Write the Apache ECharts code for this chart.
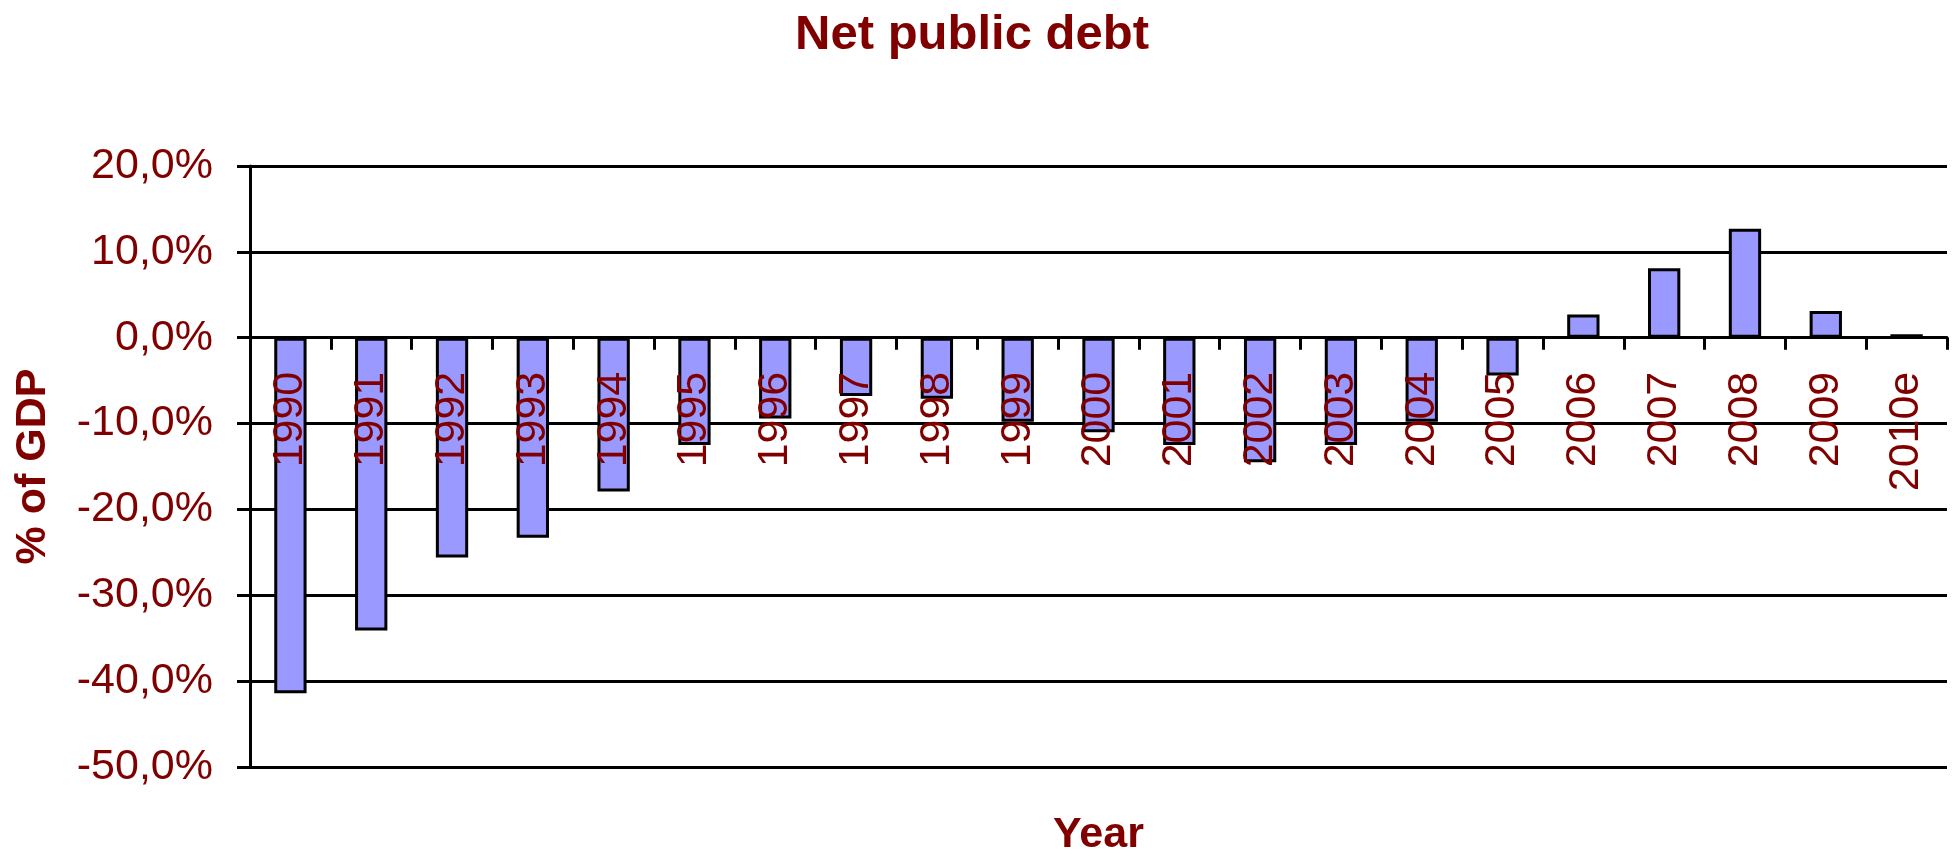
<!DOCTYPE html>
<html>
<head>
<meta charset="utf-8">
<title>Net public debt</title>
<script src="https://cdn.jsdelivr.net/npm/echarts@6/dist/echarts.min.js"></script>
<style>
  html, body { margin: 0; padding: 0; background: #fff; }
  #chart { width: 1959px; height: 859px; }
</style>
</head>
<body>
<div id="chart"></div>
<script>
// Net public debt, % of GDP, by year
const years = ['1990', '1991', '1992', '1993', '1994', '1995', '1996', '1997', '1998', '1999',
               '2000', '2001', '2002', '2003', '2004', '2005', '2006', '2007', '2008', '2009', '2010e'];
const debtPct = [-41.4, -34.1, -25.6, -23.3, -17.9, -12.5, -9.4, -6.8, -7.1, -9.8,
                 -11.0, -12.5, -14.5, -12.5, -9.8, -4.4, 2.7, 8.1, 12.7, 3.1, 0.4];
const yTicks = { min: -50, max: 20, step: 10 };

const RED = '#800000';
const FONT = '"Liberation Sans", Arial, sans-serif';
const W = 1959, H = 859;
const GRID = { left: 250, right: 12, top: 166, bottom: 92 };

// The category axis (line, ticks and year labels) sits on the 0 % line:
// shift it up from the grid bottom by the height of the negative part of the range.
const plotHeight = H - GRID.top - GRID.bottom;
const zeroShift = -plotHeight * (0 - yTicks.min) / (yTicks.max - yTicks.min);

const chart = echarts.init(document.getElementById('chart'), null, { renderer: 'canvas' });

chart.setOption({
  backgroundColor: '#ffffff',
  animation: false,
  title: {
    text: 'Net public debt',
    left: 967,
    top: 6,
    textAlign: 'center',
    textStyle: { color: RED, fontFamily: FONT, fontWeight: 'bold', fontSize: 49 }
  },
  graphic: [{
    type: 'text',
    left: 1053,
    top: 814,
    style: { text: 'Year', fill: RED, font: 'bold 43px ' + FONT }
  }],
  grid: Object.assign({ containLabel: false, outerBoundsMode: 'none' }, GRID),
  xAxis: {
    type: 'category',
    data: years,
    boundaryGap: true,
    position: 'bottom',
    offset: zeroShift,
    z: 10,
    axisLine: { onZero: false, lineStyle: { color: '#000', width: 3 } },
    axisTick: { show: true, interval: 0, length: 12, lineStyle: { color: '#000', width: 3 } },
    axisLabel: {
      interval: 0, rotate: 90, margin: 34, hideOverlap: false,
      color: RED, fontFamily: FONT, fontSize: 43
    },
    splitLine: { show: false }
  },
  yAxis: {
    type: 'value',
    min: yTicks.min,
    max: yTicks.max,
    interval: yTicks.step,
    name: '% of GDP',
    nameLocation: 'middle',
    nameGap: 195,
    nameRotate: 90,
    nameTextStyle: { color: RED, fontFamily: FONT, fontWeight: 'bold', fontSize: 43 },
    axisLine: { show: true, lineStyle: { color: '#000', width: 3 } },
    axisTick: { show: true, length: 13, lineStyle: { color: '#000', width: 3 } },
    axisLabel: {
      margin: 37, color: RED, fontFamily: FONT, fontSize: 43,
      formatter: v => v.toFixed(1).replace('.', ',') + '%'
    },
    splitLine: { show: true, lineStyle: { color: '#000', width: 3 } }
  },
  series: [{
    type: 'bar',
    data: debtPct,
    barWidth: '40%',
    itemStyle: { color: '#9999FF', borderColor: '#000', borderWidth: 3 }
  }]
});
</script>
</body>
</html>
